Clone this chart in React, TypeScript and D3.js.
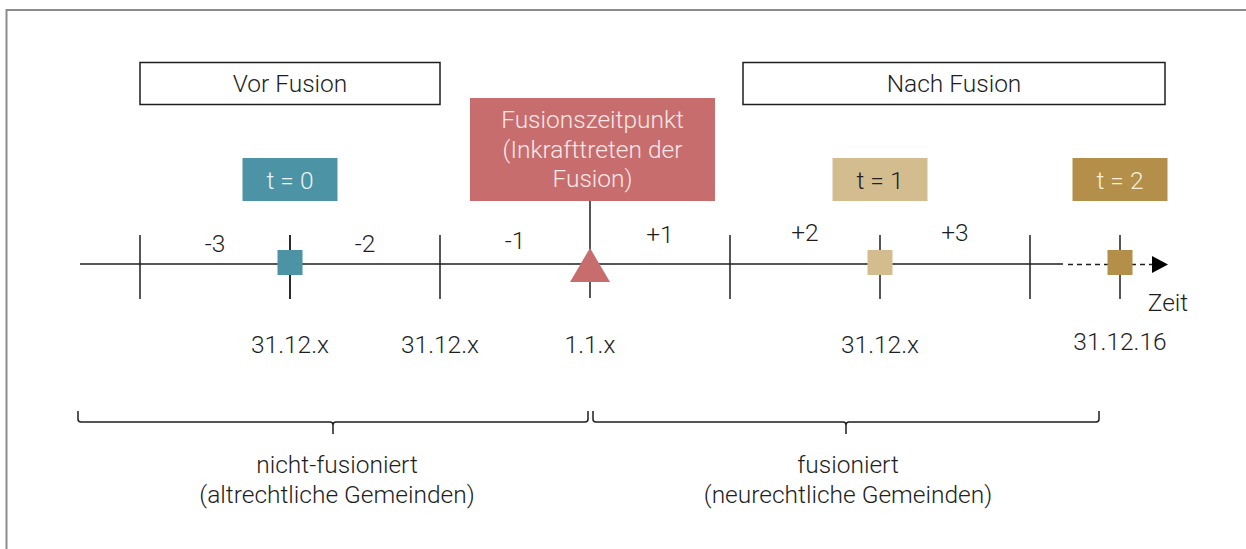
import React from "react";
import * as d3 from "d3";

// ---- data ----
const periodLabels = ["-3", "-2", "-1", "+1", "+2", "+3"];
const periodMid = [-2.5, -1.5, -0.5, 0.5, 1.5, 2.5];
const boundaries = [-3, -2, -1, 1, 3];
const fusionPos = 0;
const markerLabels = ["t = 0", "t = 1", "t = 2"];
const markerPos = [-2, 2, 3.6];
const dateLabels = ["31.12.x", "31.12.x", "1.1.x", "31.12.x", "31.12.16"];
const datePos = [-2, -1, 0, 2, 3.6];
const phaseLabels = ["Vor Fusion", "Nach Fusion"];
const fusionLines = ["Fusionszeitpunkt", "(Inkrafttreten der", "Fusion)"];
const groupLines = [
  ["nicht-fusioniert", "(altrechtliche Gemeinden)"],
  ["fusioniert", "(neurechtliche Gemeinden)"],
];

// ---- styles ----
const markerFill = ["#4b93a5", "#d3bd8f", "#b38f49"];
const markerText = ["#e9f3f5", "#222222", "#f7efdc"];
const fusionFill = "#c86d6d";
const ink = "#1e1e1e";
const FONT = "Roboto, 'Noto Sans', sans-serif";
const FS = 24.5;

const W = 1246;
const H = 549;

export default function App() {
  const x = d3.scaleLinear().domain([-3, 0, 1, 3]).range([140, 590, 730, 1030]);
  const axisY = 264;
  const labelDy = [252, 252, 249, 243, 241, 241];

  const brace = (x0: number, x1: number, y: number) => {
    const m = (x0 + x1) / 2;
    const top = y - 11;
    const r = 3;
    return `M${x0},${top} L${x0},${y - r} Q${x0},${y} ${x0 + r},${y} L${m - r},${y} Q${m},${y} ${m},${y + r} L${m},${y + 12} M${m},${y + r} Q${m},${y} ${m + r},${y} L${x1 - r},${y} Q${x1},${y} ${x1},${y - r} L${x1},${top}`;
  };

  const t2x = x(markerPos[2]);

  return (
    <svg
      width={W}
      height={H}
      style={{ position: "absolute", left: 0, top: 0, background: "#fff" }}
      fontFamily={FONT}
      fontWeight={300}
    >
      <rect x={6.5} y={10} width={1400} height={700} fill="none" stroke="#8c8c8c" strokeWidth={2} />

      {/* phase boxes */}
      <rect x={x(-3)} y={62.5} width={x(-1) - x(-3)} height={42} fill="#fff" stroke={ink} strokeWidth={1.5} />
      <text x={(x(-3) + x(-1)) / 2} y={92} textAnchor="middle" fontSize={FS} fill={ink}>{phaseLabels[0]}</text>
      <rect x={x(1) + 13} y={62.5} width={t2x + 45 - (x(1) + 13)} height={42} fill="#fff" stroke={ink} strokeWidth={1.5} />
      <text x={(x(1) + 13 + t2x + 45) / 2} y={92} textAnchor="middle" fontSize={FS} fill={ink}>{phaseLabels[1]}</text>

      {/* fusion box */}
      <rect x={x(fusionPos) - 120} y={98} width={245} height={103} fill={fusionFill} />
      {fusionLines.map((l, i) => (
        <text key={l} x={x(fusionPos) + 2.5} y={128 + i * 29.5} textAnchor="middle" fontSize={FS} fill="#f9e8e8">{l}</text>
      ))}
      <line x1={x(fusionPos)} x2={x(fusionPos)} y1={201} y2={298} stroke={ink} strokeWidth={1.5} />

      {/* marker label boxes */}
      {markerLabels.map((l, i) => (
        <g key={l}>
          <rect x={x(markerPos[i]) - 47.5} y={158} width={95} height={43} fill={markerFill[i]} />
          <text x={x(markerPos[i])} y={188.5} textAnchor="middle" fontSize={FS} fill={markerText[i]}>{l}</text>
        </g>
      ))}

      {/* axis */}
      <line x1={80} x2={1063} y1={axisY} y2={axisY} stroke={ink} strokeWidth={1.5} />
      <line x1={1068} x2={1152} y1={axisY + 0.5} y2={axisY + 0.5} stroke={ink} strokeWidth={1.5} strokeDasharray="5,4" />
      <path d={`M1152,${axisY - 8} L1168,${axisY + 0.5} L1152,${axisY + 9} Z`} fill="#000" />
      <text x={1168} y={311} textAnchor="middle" fontSize={FS} fill={ink}>Zeit</text>

      {boundaries.map((b) => (
        <line key={b} x1={x(b)} x2={x(b)} y1={235} y2={299} stroke={ink} strokeWidth={1.5} />
      ))}
      {markerPos.map((p) => (
        <line key={p} x1={x(p)} x2={x(p)} y1={235} y2={299} stroke={ink} strokeWidth={1.5} />
      ))}

      {periodLabels.map((l, i) => (
        <text key={l} x={x(periodMid[i])} y={labelDy[i]} textAnchor="middle" fontSize={FS} fill={ink}>{l}</text>
      ))}

      {/* markers */}
      {markerPos.map((p, i) => (
        <rect key={p} x={x(p) - 12.5} y={axisY - 14} width={25} height={25} fill={markerFill[i]} />
      ))}
      <path d={`M${x(fusionPos)},248 L${x(fusionPos) + 20},282 L${x(fusionPos) - 20},282 Z`} fill={fusionFill} />

      {/* dates */}
      {dateLabels.map((l, i) => (
        <text key={i} x={x(datePos[i])} y={i === 4 ? 350 : 353} textAnchor="middle" fontSize={FS} fill={ink}>{l}</text>
      ))}

      {/* braces */}
      <path d={brace(78, x(fusionPos) - 2, 422)} fill="none" stroke={ink} strokeWidth={1.5} />
      <path d={brace(x(fusionPos) + 3, t2x - 21, 422)} fill="none" stroke={ink} strokeWidth={1.5} />
      {groupLines.map((g, gi) => (
        <g key={gi}>
          {g.map((l, li) => (
            <text key={l} x={gi === 0 ? 337 : 848} y={473 + li * 30} textAnchor="middle" fontSize={FS} fill={ink}>{l}</text>
          ))}
        </g>
      ))}
    </svg>
  );
}
